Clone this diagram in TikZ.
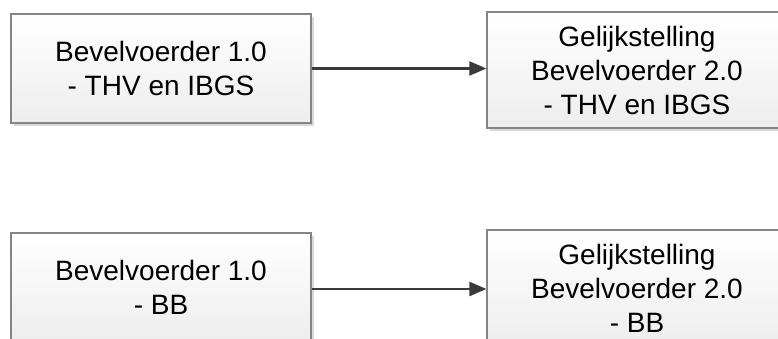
\documentclass[tikz,border=0pt]{standalone}
\usepackage{fontspec}
\setmainfont{Liberation Sans}
\usetikzlibrary{arrows.meta,shadows}
\definecolor{boxline}{HTML}{858585}
\definecolor{arrowcol}{HTML}{3A3A3A}
\tikzset{
  stepbox/.style={draw=boxline, line width=1.2pt, top color=white, bottom color=black!7,
    minimum width=300pt, align=center, font=\fontsize{28}{34}\selectfont,
    drop shadow={shadow xshift=3pt, shadow yshift=-3pt, fill=black!25, opacity=0.6}},
  conn/.style={draw=arrowcol, line width=2.3pt, -{Triangle[length=17pt,width=14pt]}}
}
\begin{document}
\begin{tikzpicture}[x=1pt,y=-1pt]
\useasboundingbox (0,0) rectangle (778,338);
\node[stepbox, minimum height=109pt] (a) at (161,68.5) {Bevelvoerder 1.0\\- THV en IBGS};
\node[stepbox, minimum height=116pt] (b) at (637,70) {Gelijkstelling\\Bevelvoerder 2.0\\- THV en IBGS};
\node[stepbox, minimum height=109pt] (c) at (161,287.5) {Bevelvoerder 1.0\\- BB};
\node[stepbox, minimum height=116pt] (d) at (637,288) {Gelijkstelling\\Bevelvoerder 2.0\\- BB};
\draw[conn] (a.east) -- (a.east -| b.west);
\draw[conn] (c.east |- 0,289) -- (b.west |- 0,289);
\end{tikzpicture}
\end{document}
